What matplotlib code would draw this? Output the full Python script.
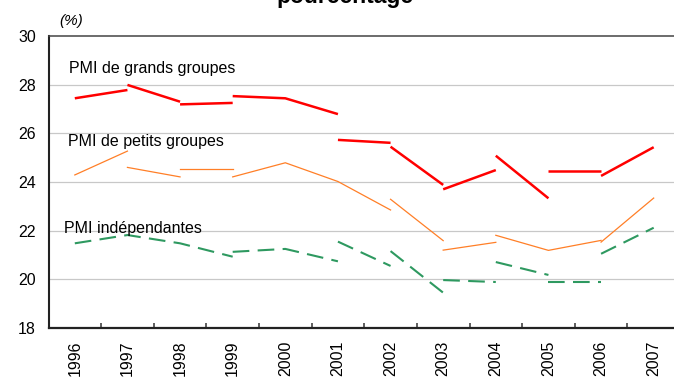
import matplotlib
matplotlib.use("Agg")
import matplotlib.pyplot as plt
import numpy as np

plt.rcParams['font.family'] = ['Liberation Sans', 'DejaVu Sans']

years = ["1996", "1997", "1998", "1999", "2000", "2001",
         "2002", "2003", "2004", "2005", "2006", "2007"]

# Each year-on-year comparison: value in year t (start) and year t+1 (end),
# measured on the population observed in both years.
grands_start = [27.44, 27.99, 27.19, 27.53, 27.44, 25.73, 25.45, 23.70, 25.08, 24.45, 24.25]
grands_end = [27.78, 27.30, 27.25, 27.44, 26.79, 25.61, 23.88, 24.49, 23.33, 24.45, 25.43]

petits_start = [24.29, 24.60, 24.52, 24.21, 24.79, 24.02, 23.29, 21.20, 21.81, 21.19, 21.53]
petits_end = [25.27, 24.21, 24.52, 24.79, 24.02, 22.85, 21.59, 21.52, 21.19, 21.60, 23.34]

indep_start = [21.48, 21.82, 21.48, 21.13, 21.25, 21.55, 21.16, 19.97, 20.71, 19.88, 21.05]
indep_end = [21.82, 21.48, 20.93, 21.25, 20.74, 20.55, 19.45, 19.89, 20.18, 19.88, 22.12]

series_labels = ["PMI de grands groupes", "PMI de petits groupes", "PMI indépendantes"]


def polylines(start, end):
    """Join consecutive year pairs into polylines where they meet."""
    runs = []
    cur_x, cur_y = [0, 1], [start[0], end[0]]
    for i in range(1, len(start)):
        if abs(start[i] - end[i - 1]) < 1e-9:
            cur_x.append(i + 1)
            cur_y.append(end[i])
        else:
            runs.append((cur_x, cur_y))
            cur_x, cur_y = [i, i + 1], [start[i], end[i]]
    runs.append((cur_x, cur_y))
    return runs


W, H = 674, 377
fig = plt.figure(figsize=(W / 100, H / 100), dpi=100)
left, right, top, bottom = 48.5, 680.0, 36.0, 328.0
ax = fig.add_axes([left / W, 1 - bottom / H, (right - left) / W, (bottom - top) / H])

x = np.arange(len(years))

for xs, ys in polylines(grands_start, grands_end):
    ax.plot(xs, ys, color="#FF0000", lw=1.8, solid_capstyle="butt", zorder=4)
for xs, ys in polylines(petits_start, petits_end):
    ax.plot(xs, ys, color="#FF7F27", lw=0.9, zorder=3)
for xs, ys in polylines(indep_start, indep_end):
    ax.plot(xs, ys, color="#2E9960", lw=1.5, linestyle=(0, (8.0, 4.0)), zorder=3)

ax.set_xlim(-0.5, len(years) - 0.5)
ax.set_ylim(18, 30)
ax.set_yticks(np.arange(18, 31, 2))
ax.set_yticklabels([str(v) for v in range(18, 31, 2)], fontsize=11.5)
ax.set_xticks(x)
ax.set_xticklabels(years, rotation=90, fontsize=11.5)
ax.set_xticks(np.arange(0.5, len(years) - 0.5, 1), minor=True)

ax.tick_params(axis="y", length=0, pad=9)
ax.tick_params(axis="x", which="major", length=0, pad=9)
ax.tick_params(axis="x", which="minor", direction="in", length=3.5, width=1.1, color="#333333")

for v in range(20, 30, 2):
    ax.axhline(v, color="#C8C8C8", lw=0.9, zorder=1)

ax.spines["left"].set_linewidth(1.5)
ax.spines["left"].set_color("#222222")
ax.spines["bottom"].set_linewidth(1.6)
ax.spines["bottom"].set_color("#222222")
ax.spines["top"].set_linewidth(1.1)
ax.spines["top"].set_color("#444444")
ax.spines["right"].set_visible(False)

ax.text(-0.11, 28.68, series_labels[0], fontsize=11.5, va="center", ha="left")
ax.text(-0.13, 25.68, series_labels[1], fontsize=11.5, va="center", ha="left")
ax.text(-0.205, 22.1, series_labels[2], fontsize=11.5, va="center", ha="left", zorder=5)

fig.text(59 / W, 1 - 21 / H, "(%)", fontsize=11, style="italic", va="center", ha="left")
fig.text(345.5 / W, 1 - 3 / H, "pourcentage", fontsize=16.5, fontweight="bold",
         ha="center", va="baseline")

fig.savefig("out.png", dpi=100)
